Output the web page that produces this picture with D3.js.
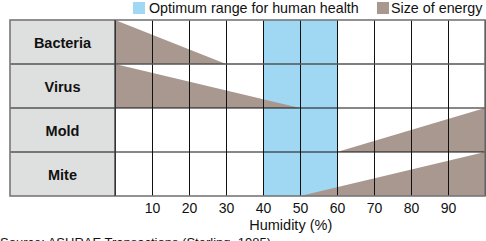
<!DOCTYPE html>
<html>
<head>
<meta charset="utf-8">
<script src="https://cdn.jsdelivr.net/npm/d3@7"></script>
<style>
  body { margin: 0; background: #fff; }
  svg { display: block; font-family: "Liberation Sans", Arial, sans-serif; }
</style>
</head>
<body>
<svg width="486" height="241"></svg>
<script>
// categories (rows) and humidity axis
var categories = ["Bacteria", "Virus", "Mold", "Mite"];
var tickValues = [10, 20, 30, 40, 50, 60, 70, 80, 90];
var gridLines = [0, 10, 20, 30, 40, 50, 60, 70, 80, 90, 100];
var optimumRange = [40, 60];

// energy profile per row: [humidity, relative size 0..1]
var bacteriaEnergy = [[0, 1], [30, 0]];
var virusEnergy = [[0, 1], [50, 0]];
var moldEnergy = [[60, 0], [100, 1]];
var miteEnergy = [[50, 0], [100, 1]];
var energies = [bacteriaEnergy, virusEnergy, moldEnergy, miteEnergy];

var legendLabels = ["Optimum range for human health", "Size of energy"];
var axisTitle = "Humidity (%)";
var sourceText = "Source: ASHRAE Transactions (Sterling, 1985)";

(function () {
    var blue = "#a0d8f4", brown = "#a8988f", labelFill = "#dedfdf";

    var svg = d3.select("svg");

    var gLeft = 10, gTop = 20, gBottom = 196;
    var x = d3.scaleLinear().domain([0, 100]).range([115, 485]);
    var y = d3.scaleBand().domain(categories).range([gTop, gBottom]);

    // label column
    svg.append("rect")
        .attr("x", gLeft).attr("y", gTop)
        .attr("width", x(0) - gLeft).attr("height", gBottom - gTop)
        .attr("fill", labelFill);

    // optimum range band
    svg.append("rect")
        .attr("x", x(optimumRange[0])).attr("y", gTop)
        .attr("width", x(optimumRange[1]) - x(optimumRange[0]))
        .attr("height", gBottom - gTop)
        .attr("fill", blue);

    // energy triangles
    categories.forEach(function (c, i) {
        var rb = y(c) + y.bandwidth();
        var area = d3.area()
            .x(d => x(d[0]))
            .y0(rb)
            .y1(d => rb - d[1] * y.bandwidth());
        svg.append("path")
            .attr("d", area(energies[i]))
            .attr("fill", brown);
    });

    // vertical grid lines
    svg.append("g").selectAll("line")
        .data(gridLines)
        .enter().append("line")
        .attr("x1", d => x(d)).attr("x2", d => x(d))
        .attr("y1", gTop).attr("y2", gBottom)
        .attr("stroke", "#111").attr("stroke-width", 1)
        .attr("shape-rendering", "crispEdges");

    // horizontal row lines
    svg.append("g").selectAll("line")
        .data(categories.slice(1))
        .enter().append("line")
        .attr("x1", gLeft).attr("x2", x(100))
        .attr("y1", d => y(d)).attr("y2", d => y(d))
        .attr("stroke", (d, i) => i == 0 ? "#555" : "#111")
        .attr("stroke-width", (d, i) => i == 0 ? 1.6 : 1.2);

    // outer border
    svg.append("rect")
        .attr("x", gLeft).attr("y", gTop)
        .attr("width", x(100) - gLeft).attr("height", gBottom - gTop)
        .attr("fill", "none")
        .attr("stroke", "#777").attr("stroke-width", 1.6);

    svg.append("line")
        .attr("x1", x(0)).attr("x2", x(0))
        .attr("y1", gTop).attr("y2", gBottom)
        .attr("stroke", "#444").attr("stroke-width", 1.4);

    // row labels
    svg.append("g").selectAll("text")
        .data(categories)
        .enter().append("text")
        .attr("x", (gLeft + x(0)) / 2)
        .attr("y", d => y(d) + y.bandwidth() / 2 + 5.5)
        .attr("text-anchor", "middle")
        .attr("font-weight", "bold")
        .attr("font-size", 14.5)
        .attr("fill", "#111")
        .text(d => d);

    // x axis labels
    var axis = d3.axisBottom(x).tickValues(tickValues).tickSize(0).tickPadding(0);
    var gx = svg.append("g").attr("transform", "translate(0," + (gBottom + 17) + ")").call(axis);
    gx.select(".domain").remove();
    gx.selectAll("text")
        .attr("font-size", 14)
        .attr("font-family", "Liberation Sans, Arial, sans-serif")
        .attr("fill", "#111")
        .attr("dy", 0);

    svg.append("text")
        .attr("x", x(47.5)).attr("y", 230)
        .attr("text-anchor", "middle")
        .attr("font-size", 14.5)
        .attr("fill", "#111")
        .text(axisTitle);

    svg.append("text")
        .attr("x", 0).attr("y", 247)
        .attr("font-size", 13)
        .attr("fill", "#111")
        .text(sourceText);

    // legend
    var legend = [[133, 149, blue], [377, 391, brown]];
    legend.forEach(function (l, i) {
        svg.append("rect")
            .attr("x", l[0]).attr("y", 2)
            .attr("width", 12).attr("height", 12)
            .attr("fill", l[2]);
        svg.append("text")
            .attr("x", l[1]).attr("y", 13)
            .attr("font-size", 14.3)
            .attr("fill", "#111")
            .text(legendLabels[i]);
    });
})();
</script>
</body>
</html>
